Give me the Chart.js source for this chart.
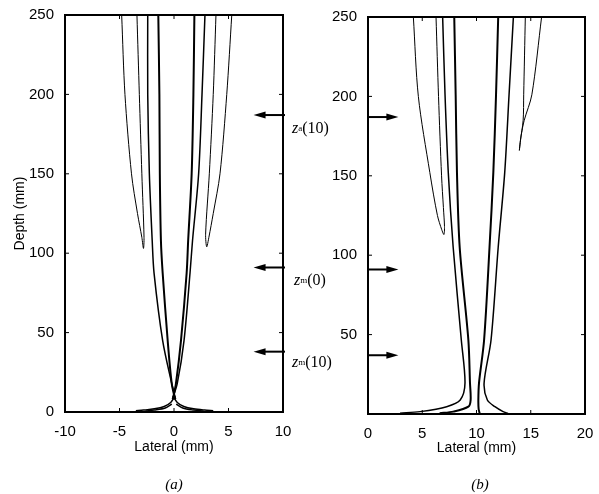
<!DOCTYPE html>
<html>
<head>
<meta charset="utf-8">
<script src="https://cdn.jsdelivr.net/npm/chart.js@4.4.1/dist/chart.umd.min.js"></script>
<style>
  body { margin: 0; background: #fff; }
  #wrap { position: relative; width: 599px; height: 494px; overflow: hidden; background: #fff; }
  canvas { position: absolute; top: 0; }
  .lbl { position: absolute; font-family: "Liberation Serif", serif; font-size: 16px; color: #000; white-space: nowrap; line-height: 16px; }
  .lbl i { font-style: italic; }
  .lbl .s { font-size: 9px; vertical-align: 2px; }
  .cap { position: absolute; font-family: "Liberation Serif", serif; font-style: italic; font-size: 15px; color: #000; transform: translateX(-50%); }
</style>
</head>
<body>
<div id="wrap">
  <canvas id="chartA" width="300" height="494" style="left:0"></canvas>
  <canvas id="chartB" width="299" height="494" style="left:300px"></canvas>
  <div class="lbl" style="left:292px; top:120px"><i>z</i><span class="s">a</span>(10)</div>
  <div class="lbl" style="left:294px; top:272px"><i>z</i><span class="s">m</span>(0)</div>
  <div class="lbl" style="left:292px; top:354px"><i>z</i><span class="s">m</span>(10)</div>
  <div class="cap" style="left:174px; top:476px">(a)</div>
  <div class="cap" style="left:480px; top:476px">(b)</div>
</div>
<script>
// panel (a): beam contours, lateral (mm) vs depth (mm)
const aLobeLeftX  = [-4.8, -4.5, -3.9, -3.35, -2.95, -2.8, -2.75, -2.95, -3.18, -3.4];
const aLobeLeftY  = [250, 200, 150, 125, 110, 103, 110, 150, 200, 250];
const aLobeRightX = [5.3, 4.84, 4.22, 3.6, 3.2, 3.0, 2.9, 3.24, 3.6, 3.85];
const aLobeRightY = [250, 200, 150, 125, 110, 104, 112, 150, 200, 250];
const aInnerY     = [250, 200, 150, 108, 87.5, 45, 18, 8];
const aInner1X    = [-2.41, -2.41, -2.26, -2.0, -1.83, -1.04, -0.21, 0.15];
const aInner2X    = [-1.44, -1.34, -1.3, -1.2, -1.04, -0.58, -0.21, 0.1];
const aInner3X    = [1.87, 1.78, 1.62, 1.3, 1.16, 0.64, 0.18, -0.1];
const aInner4X    = [2.84, 2.57, 2.26, 1.7, 1.47, 0.92, 0.3, -0.15];
const aNearY      = [10, 6, 3.5, 2, 1.2, 0.8];
const aNearLeftX  = [0.1, -0.3, -0.9, -1.8, -2.8, -3.5];
const aNearRightX = [-0.1, 0.3, 0.9, 1.8, 2.8, 3.6];
const aNear2Y     = [5, 2.5, 1.2, 0.6];
const aNear2LeftX = [-0.2, -0.8, -1.8, -2.6];
const aNear2RightX = [0.2, 0.8, 1.8, 2.7];
const arrowDepthsA = [187, 91, 38];

// panel (b)
const bLobeLeftX  = [4.18, 4.64, 5.7, 6.4, 6.8, 7.0, 7.05, 6.95, 6.78, 6.5, 6.27];
const bLobeLeftY  = [250, 200, 152, 125, 116, 113, 118, 130, 150, 200, 250];
const bLobeRightX = [16.0, 15.1, 14.4, 14.1, 13.95, 14.05, 14.3, 14.35, 14.5];
const bLobeRightY = [250, 201, 185, 175, 166, 172, 185, 201, 250];
const bInnerY     = [250, 201, 152, 105, 46.6, 19.5, 8.8, 4.6, 1.5, 0.5];
const bInner1X    = [6.88, 7.1, 7.4, 7.85, 8.6, 8.94, 8.5, 7.25, 4.8, 2.95];
const bInner2X    = [7.95, 8.08, 8.2, 8.45, 9.25, 9.4, 9.46, 9.25, 7.86, 6.6];
const bInner3Y    = [250, 201, 152, 105, 46.6, 19.5, 8.8, 3, 0.3];
const bInner3X    = [12.0, 11.8, 11.55, 11.2, 10.7, 10.23, 10.17, 10.2, 10.3];
const bInner4Y    = [250, 201, 152, 105, 46.6, 19.5, 8.8, 4.6, 1.5, 0.3];
const bInner4X    = [13.4, 13.0, 12.6, 12.0, 11.34, 10.7, 11.0, 11.7, 12.45, 12.9];
const arrowDepthsB = [187, 91, 37];

const depthTicks = [0, 50, 100, 150, 200, 250];

const zip = (xs, ys) => xs.map((x, i) => ({ x: x, y: ys[i] }));
const line = (xs, ys, w) => ({
    data: zip(xs, ys),
    showLine: true,
    borderColor: '#000',
    borderWidth: w,
    pointRadius: 0,
    tension: 0.3,
    fill: false
});

const tickFont = { family: 'Liberation Sans', size: 15 };
const titleFont = { family: 'Liberation Sans', size: 14 };

// box round the plot area with inward ticks, like the original
const framePlugin = {
    id: 'frame',
    afterDatasetsDraw(chart) {
        const { ctx, chartArea: a, scales } = chart;
        ctx.save();
        ctx.strokeStyle = '#000';
        ctx.lineWidth = 2;
        ctx.strokeRect(a.left, a.top, a.right - a.left, a.bottom - a.top);
        ctx.lineWidth = 1;
        ctx.beginPath();
        scales.x.ticks.forEach(t => {
            const px = scales.x.getPixelForValue(t.value);
            ctx.moveTo(px, a.bottom); ctx.lineTo(px, a.bottom - 4);
            ctx.moveTo(px, a.top); ctx.lineTo(px, a.top + 4);
        });
        scales.y.ticks.forEach(t => {
            const py = scales.y.getPixelForValue(t.value);
            ctx.moveTo(a.left, py); ctx.lineTo(a.left + 4, py);
            ctx.moveTo(a.right, py); ctx.lineTo(a.right - 4, py);
        });
        ctx.stroke();
        ctx.restore();
    }
};

const arrowPlugin = {
    id: 'arrows',
    afterDraw(chart, args, opts) {
        if (!opts.depths) return;
        const { ctx, chartArea: a, scales } = chart;
        const tip = scales.x.getPixelForValue(opts.tipX);
        const tail = opts.side === 'right' ? a.right + 2 : a.left;
        const dir = tip < tail ? -1 : 1;
        ctx.save();
        ctx.strokeStyle = '#000';
        ctx.fillStyle = '#000';
        ctx.lineWidth = 2;
        opts.depths.forEach(d => {
            const py = scales.y.getPixelForValue(d);
            ctx.beginPath();
            ctx.moveTo(tail, py);
            ctx.lineTo(tip - dir * 8, py);
            ctx.stroke();
            ctx.beginPath();
            ctx.moveTo(tip, py);
            ctx.lineTo(tip - dir * 12, py - 3.5);
            ctx.lineTo(tip - dir * 12, py + 3.5);
            ctx.closePath();
            ctx.fill();
        });
        ctx.restore();
    }
};

function makeChart(id, datasets, cfg) {
    return new Chart(document.getElementById(id), {
        type: 'scatter',
        data: { datasets: datasets },
        plugins: [framePlugin, arrowPlugin],
        options: {
            responsive: false,
            animation: false,
            events: [],
            layout: { padding: cfg.padding },
            plugins: {
                legend: { display: false },
                tooltip: { enabled: false },
                arrows: cfg.arrows
            },
            scales: {
                x: {
                    type: 'linear',
                    min: cfg.xMin, max: cfg.xMax,
                    ticks: { stepSize: 5, color: '#000', font: tickFont, padding: 3, maxRotation: 0 },
                    grid: { display: false },
                    border: { display: false },
                    title: { display: true, text: 'Lateral (mm)', color: '#000', font: titleFont,
                             padding: { top: 0, bottom: cfg.xTitlePad } },
                    afterFit: s => { s.height = cfg.xHeight; }
                },
                y: {
                    type: 'linear',
                    min: 0, max: 250,
                    afterBuildTicks: s => { s.ticks = depthTicks.map(v => ({ value: v })); },
                    ticks: {
                        color: '#000', font: tickFont, padding: 3,
                        callback: v => (cfg.hideZero && v === 0) ? '' : v
                    },
                    grid: { display: false },
                    border: { display: false },
                    title: { display: cfg.yTitle, text: 'Depth (mm)', color: '#000', font: titleFont,
                             padding: { top: 11.6, bottom: 0 } },
                    afterFit: s => { s.width = cfg.yWidth; }
                }
            }
        }
    });
}

makeChart('chartA', [
    line(aLobeLeftX, aLobeLeftY, 1),
    line(aLobeRightX, aLobeRightY, 1),
    line(aInner1X, aInnerY, 1.5),
    line(aInner2X, aInnerY, 2),
    line(aInner3X, aInnerY, 2),
    line(aInner4X, aInnerY, 1.5),
    line(aNearLeftX, aNearY, 1.5),
    line(aNearRightX, aNearY, 1.5),
    line(aNear2LeftX, aNear2Y, 1.5),
    line(aNear2RightX, aNear2Y, 1.5)
], {
    padding: { top: 15, right: 17, bottom: 0, left: 0 },
    xMin: -10, xMax: 10, xHeight: 82, xTitlePad: 38.6,
    yWidth: 65, yTitle: true, hideZero: false,
    arrows: { depths: arrowDepthsA, tipX: 7.3, side: 'right' }
});

makeChart('chartB', [
    line(bLobeLeftX, bLobeLeftY, 1),
    line(bLobeRightX, bLobeRightY, 1),
    line(bInner1X, bInnerY, 1.5),
    line(bInner2X, bInnerY, 2),
    line(bInner3X, bInner3Y, 2),
    line(bInner4X, bInner4Y, 1.5)
], {
    padding: { top: 17, right: 14, bottom: 0, left: 0 },
    xMin: 0, xMax: 20, xHeight: 80, xTitlePad: 37.6,
    yWidth: 68, yTitle: false, hideZero: true,
    arrows: { depths: arrowDepthsB, tipX: 2.8, side: 'left' }
});
</script>
</body>
</html>
